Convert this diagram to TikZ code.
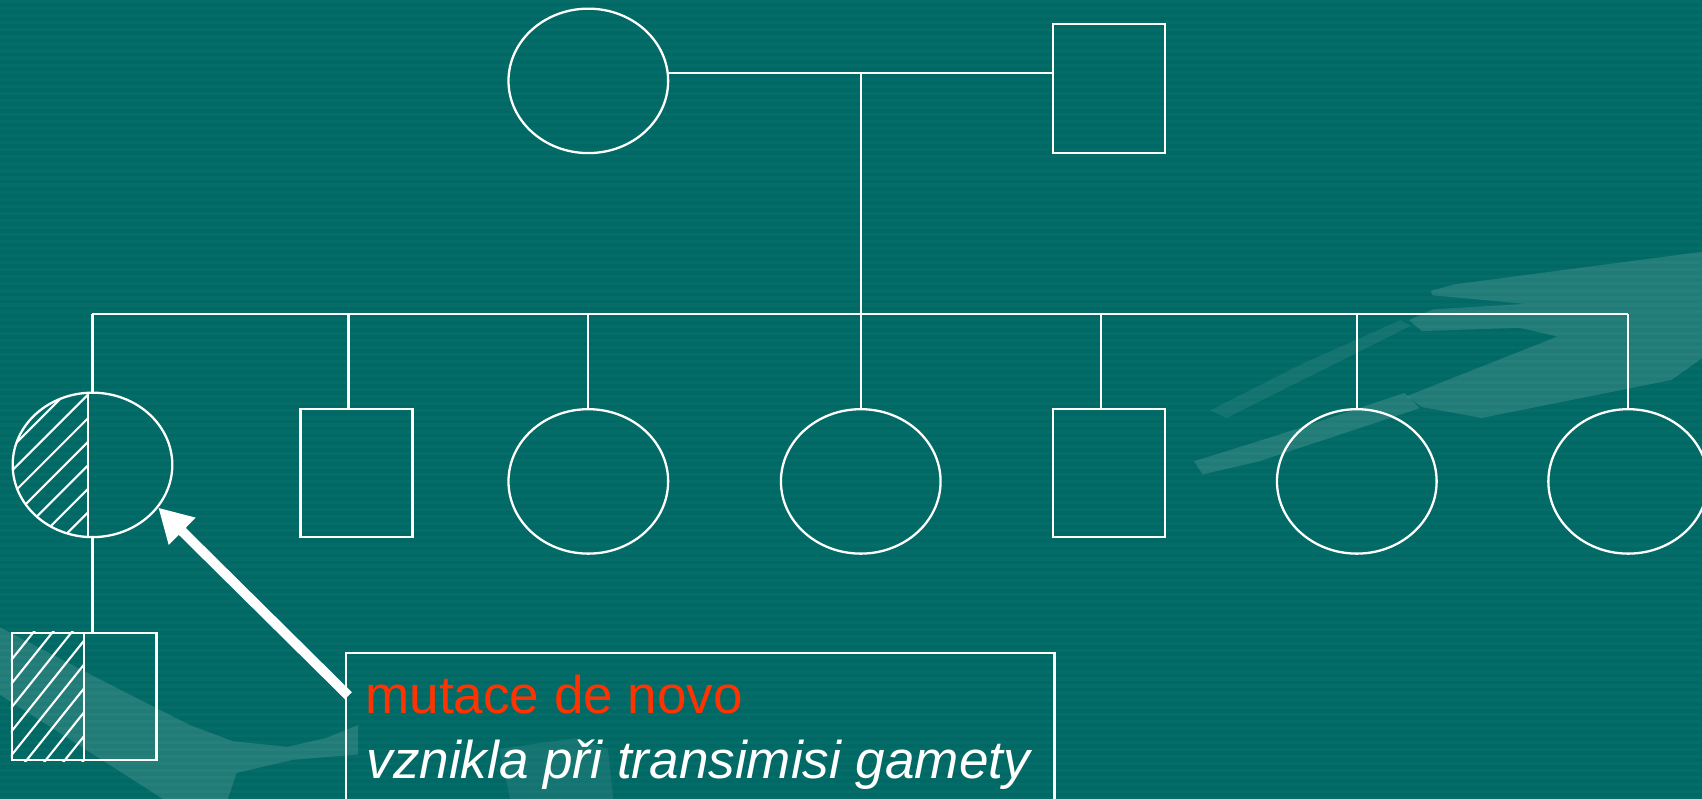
\documentclass[tikz,border=0pt]{standalone}
\usepackage{fontspec}
\setmainfont{Liberation Sans}
\usetikzlibrary{shapes.geometric,arrows.meta,calc}
\definecolor{bg}{RGB}{0,105,101}
\definecolor{mutred}{RGB}{255,51,0}
\tikzset{
  pline/.style={draw=white, line width=0.6pt},
  femalenode/.style={ellipse, draw=white, line width=0.6pt, minimum width=1.47cm, minimum height=1.33cm, inner sep=0pt},
  malenode/.style={rectangle, draw=white, line width=0.6pt, minimum width=1.03cm, minimum height=1.18cm, inner sep=0pt},
  hatchline/.style={draw=white, line width=0.55pt},
  swoosh/.style={fill=white, fill opacity=0.13, draw=none},
  txt/.style={anchor=base west, inner sep=0pt, font=\fontsize{13.9}{16}\selectfont},
}
\begin{document}
\begin{tikzpicture}[x=0.01cm, y=-0.01cm]
\useasboundingbox (0,0) rectangle (1568,736);
\clip (0,0) rectangle (1568,736);
\fill[bg] (0,0) rectangle (1568,736);
% faint horizontal stripes
\foreach \s in {0,6.5,...,736} \fill[white, fill opacity=0.025] (0,\s) rectangle (1568,\s+3);
% background decoration
\fill[swoosh] (1318,268) -- (1340,262) -- (1568,232) -- (1568,330) -- (1540,350) -- (1365,385) -- (1310,375) -- (1296,365) -- (1435,310) -- (1400,302) -- (1310,305) -- (1298,295) -- (1320,285) -- (1405,280) -- (1320,272) -- cycle;
\fill[swoosh] (1100,425) -- (1180,400) -- (1294,362) -- (1308,376) -- (1160,425) -- (1108,437) -- cycle;
\fill[swoosh, fill opacity=0.07] (1115,378) -- (1200,335) -- (1290,295) -- (1300,300) -- (1200,350) -- (1130,385) -- cycle;
\fill[swoosh] (0,578) -- (100,630) -- (175,668) -- (215,683) -- (265,688) -- (300,680) -- (330,668) -- (330,695) -- (270,700) -- (218,712) -- (210,736) -- (150,736) -- (0,640) -- cycle;
\fill[swoosh, fill opacity=0.08] (460,690) -- (530,680) -- (560,690) -- (565,736) -- (470,736) -- cycle;

% parents
\node[femalenode] (mo) at (542,74.5) {};
\node[malenode, minimum height=1.19cm] (fa) at (1021.5,81.5) {};
% children
\node[femalenode] (h1) at (85.2,428.3) {};
\node[malenode] (s1) at (328.5,436) {};
\node[femalenode] (d2) at (542,443.5) {};
\node[femalenode] (d3) at (793,443.5) {};
\node[malenode] (s2) at (1021.5,436) {};
\node[femalenode] (d4) at (1250,443.5) {};
\node[femalenode] (d5) at (1500,443.5) {};
% grandchild
\node[rectangle, draw=white, line width=0.6pt, minimum width=1.33cm, minimum height=1.17cm, inner sep=0pt] (c1) at (77.7,641.8) {};

% hatching of the circle
\begin{scope}
  \clip (h1.center) ellipse [x radius=0.735cm, y radius=0.665cm];
  \draw[pline] (81,300) -- (81,520);
  \clip (0,300) rectangle (81,520);
  \foreach \c in {423,444.7,...,576} \draw[hatchline] (0,\c) -- (200,\c-200);
\end{scope}
% hatching of the square
\begin{scope}
  \clip (c1.north west) rectangle (c1.south);
  \foreach \c in {621,643,...,797} \draw[hatchline] (0,\c) -- (100,\c-125);
\end{scope}
\draw[pline] (c1.north) -- (c1.south);

% connectors
\coordinate (mline) at ($(mo.east)+(0,-7)$);
\draw[pline] (mline) -- (mline -| fa.west);
\coordinate (mid) at (793,67.5);
\coordinate (sib) at (793,289);
\draw[pline] (mid) -- (sib);
\coordinate (j0) at (85.2,289);
\coordinate (j1) at (321,289);
\coordinate (j2) at (542,289);
\coordinate (j4) at (1014,289);
\coordinate (j5) at (1250,289);
\coordinate (j6) at (1500,289);
\draw[pline] (j0) -- (j6);
\draw[pline] (j0) -- (h1.north);
\draw[pline] (j1) -- (j1 |- s1.north);
\draw[pline] (j2) -- (d2.north);
\draw[pline] (sib) -- (d3.north);
\draw[pline] (j4) -- (j4 |- s2.north);
\draw[pline] (j5) -- (d4.north);
\draw[pline] (j6) -- (d5.north);
\draw[pline] (h1.south) -- (h1.south |- c1.north);

% text box
\node[draw=white, line width=0.6pt, anchor=north west, minimum width=6.52cm, minimum height=2cm, inner sep=0pt] (tb) at (318,600.5) {};
\node[txt, text=mutred] (t1) at (336,657) {mutace de novo};
\node[txt, text=white, font=\fontsize{13.9}{16}\selectfont\itshape] (t2) at (337,717) {vznikla při transimisi gamety};

% arrow
\coordinate (tail) at (321,641);
\draw[white, line width=0.09cm, -{Triangle[length=0.31cm,width=0.33cm]}] (tail) -- (h1.-33);
\end{tikzpicture}
\end{document}
